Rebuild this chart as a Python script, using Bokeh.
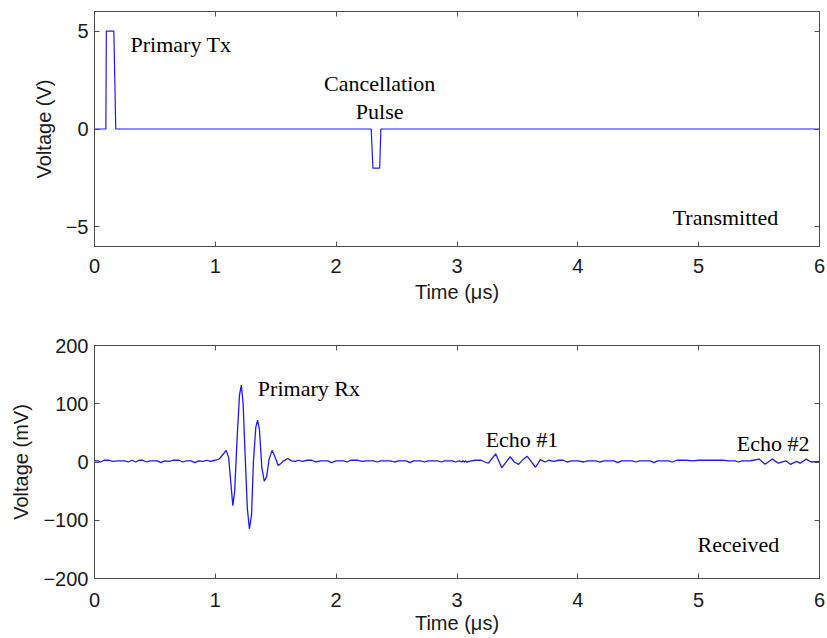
from bokeh.plotting import figure
from bokeh.layouts import column
from bokeh.models import LinearAxis, FixedTicker, Label, CustomLabelingPolicy
from bokeh.embed import file_html
from bokeh.resources import INLINE

# ---------------- data ----------------
tx_time = [0.0, 0.094, 0.098, 0.160, 0.176, 2.290, 2.304, 2.360, 2.370, 6.0]
tx_volt = [0, 0, 5, 5, 0, 0, -2, -2, 0, 0]

rx_time = [0.00, 0.03, 0.05, 0.08, 0.12, 0.15, 0.19, 0.25, 0.28, 0.31, 0.34, 0.37,
           0.40, 0.43, 0.46, 0.52, 0.55, 0.58, 0.62, 0.65, 0.70, 0.73, 0.76, 0.80,
           0.83, 0.86, 0.90, 0.93, 0.96, 1.00, 1.03, 1.06, 1.09, 1.11, 1.13, 1.145,
           1.16, 1.18, 1.20, 1.215, 1.23, 1.245, 1.265, 1.282, 1.30, 1.315, 1.335,
           1.35, 1.365, 1.385, 1.405, 1.425, 1.445, 1.47, 1.495, 1.52, 1.545, 1.565,
           1.60, 1.63, 1.66, 1.69, 1.72, 1.76, 1.80, 1.83, 1.87, 1.93, 1.96, 2.00,
           2.06, 2.09, 2.12, 2.18, 2.21, 2.25, 2.31, 2.34, 2.37, 2.45, 2.48, 2.52,
           2.58, 2.61, 2.64, 2.70, 2.73, 2.76, 2.84, 2.87, 2.90, 2.96, 2.99, 3.02,
           3.04, 3.05, 3.06, 3.07, 3.08, 3.12, 3.15, 3.20, 3.23, 3.26, 3.29, 3.32,
           3.345, 3.37, 3.40, 3.44, 3.475, 3.51, 3.545, 3.58, 3.61, 3.65, 3.69, 3.71,
           3.73, 3.76, 3.80, 3.84, 3.88, 3.91, 3.95, 4.00, 4.05, 4.08, 4.15, 4.18,
           4.22, 4.30, 4.33, 4.36, 4.45, 4.48, 4.51, 4.60, 4.63, 4.66, 4.75, 4.78,
           4.82, 4.90, 4.95, 5.00, 5.10, 5.20, 5.25, 5.30, 5.33, 5.36, 5.42, 5.45,
           5.50, 5.55, 5.61, 5.66, 5.72, 5.76, 5.81, 5.84, 5.89, 5.93, 6.00]
rx_mv = [2, 2, 0, 3, 3, 1, 2, 2, 0, 3, 0, 3,
         3, 0, 2, 2, -1, 2, 1, 3, 3, 0, 2, 2,
         -1, 2, 1, 3, 1, 3, 5, 12, 20, 8, -40, -75,
         -50, 40, 115, 132, 100, 20, -80, -115, -90, 0, 60,
         72, 55, -10, -33, -25, 5, 20, 8, -6, -2, 2,
         6, 2, 1, 3, 1, 3, 3, 0, 2, 2, -1, 2,
         2, 0, 3, 3, 1, 2, 2, 0, 2, 2, 0, 2,
         2, -1, 2, 2, 0, 2, 2, 0, 2, 2, 0, 2,
         0, 2, 0, 2, 0, 2, 3, 3, 0, -2, 6, 14,
         2, -10, -2, 9, 0, -4, 4, 10, 2, -9, 4, 2,
         0, 3, 1, 3, 3, 0, 2, 2, 0, 2, 2, 0,
         2, 2, -1, 2, 2, 0, 2, 2, -1, 2, 2, 0,
         3, 3, 2, 3, 3, 3, 2, 2, 0, 2, 2, 3,
         5, -4, 5, -2, 2, -4, 1, -2, 5, 0, 1]

x_ticks = [0, 1, 2, 3, 4, 5, 6]
tx_yticks = [-5, 0, 5]
rx_yticks = [-200, -100, 0, 100, 200]
minus_labels = {-5: "\u22125", -200: "\u2212200", -100: "\u2212100"}

# ---------------- style ----------------
LINE = "#1a1aff"
AX = "#4d4d4d"
TXT = "#1a1a1a"
SANS = "Liberation Sans"
SERIF = "Liberation Serif"
FS = "20px"
AFS = "22px"


def style(p, yticks, xstand, xlab_stand):
    p.xaxis.ticker = FixedTicker(ticks=x_ticks)
    p.yaxis.ticker = FixedTicker(ticks=yticks)
    p.yaxis.major_label_overrides = {k: v for k, v in minus_labels.items() if k in yticks}
    for ax in (p.xaxis[0], p.yaxis[0]):
        ax.major_tick_in = 5
        ax.major_tick_out = 0
        ax.minor_tick_in = 0
        ax.minor_tick_out = 0
        ax.axis_line_color = AX
        ax.major_tick_line_color = AX
        ax.major_label_text_font = SANS
        ax.major_label_text_font_size = FS
        ax.major_label_text_color = TXT
        ax.axis_label_text_font = SANS
        ax.axis_label_text_font_size = FS
        ax.axis_label_text_font_style = "normal"
        ax.axis_label_text_color = TXT
    p.xaxis.major_label_standoff = xstand
    p.xaxis.axis_label_standoff = xlab_stand
    p.yaxis.major_label_standoff = 6
    p.yaxis.axis_label_standoff = 8
    for loc, tk in (("right", yticks), ("above", x_ticks)):
        ax = LinearAxis(ticker=FixedTicker(ticks=tk))
        ax.major_label_policy = CustomLabelingPolicy(code="return new Set()")
        ax.major_label_standoff = 0
        ax.major_tick_in = 5
        ax.major_tick_out = 0
        ax.minor_tick_in = 0
        ax.minor_tick_out = 0
        ax.axis_line_color = AX
        ax.major_tick_line_color = AX
        p.add_layout(ax, loc)
    p.grid.visible = False
    p.outline_line_color = AX
    p.background_fill_color = "white"
    p.border_fill_color = "white"


def label(p, x, y, text, align="left"):
    p.add_layout(Label(x=x, y=y, text=text, text_font=SERIF, text_font_size=AFS,
                       text_color="black", text_align=align, text_baseline="alphabetic"))


# ---------------- top ----------------
p1 = figure(frame_width=725, frame_height=235, x_range=(0, 6), y_range=(-6, 6),
            output_backend="svg", toolbar_location=None,
            min_border_left=94, min_border_right=8, min_border_top=9, min_border_bottom=75)
p1.line(tx_time, tx_volt, line_color=LINE, line_width=1.2)
p1.xaxis.axis_label = "Time (\u03bcs)"
p1.yaxis.axis_label = "Voltage (V)"
style(p1, tx_yticks, 12, 5)
label(p1, 0.298, 4.3, "Primary Tx")
label(p1, 2.36, 2.3, "Cancellation", "center")
label(p1, 2.36, 0.9, "Pulse", "center")
label(p1, 4.785, -4.5, "Transmitted")

# ---------------- bottom ----------------
p2 = figure(frame_width=725, frame_height=233, x_range=(0, 6), y_range=(-200, 200),
            output_backend="svg", toolbar_location=None,
            min_border_left=94, min_border_right=8, min_border_top=24, min_border_bottom=62)
p2.line(rx_time, rx_mv, line_color=LINE, line_width=1.3)
p2.xaxis.axis_label = "Time (\u03bcs)"
p2.yaxis.axis_label = "Voltage (mV)"
style(p2, rx_yticks, 14, 2)
label(p2, 1.352, 127, "Primary Rx")
label(p2, 3.237, 38, "Echo #1")
label(p2, 5.315, 31, "Echo #2")
label(p2, 4.99, -141, "Received")

layout = column(p1, p2, spacing=0)
open("out.html", "w").write(file_html(layout, INLINE))
